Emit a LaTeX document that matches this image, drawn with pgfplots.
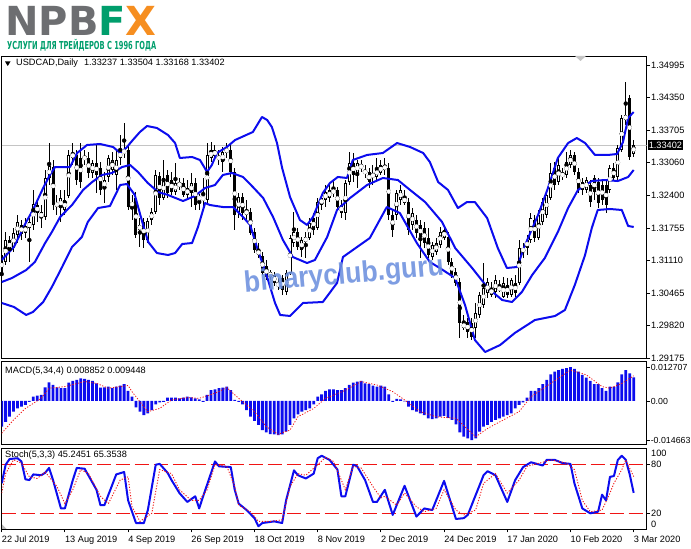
\documentclass[border=0pt]{standalone}
\usepackage{graphicx}
\usepackage{fontspec}
\setmainfont{Liberation Sans}
\newfontfamily\logofont{DejaVu Sans}
\usepackage{pgfplots}
\pgfplotsset{compat=1.18}
\usepackage{pgfplotstable}

\definecolor{mtblue}{RGB}{12,12,238}
\definecolor{mtred}{RGB}{240,20,20}
\definecolor{npbgrey}{RGB}{109,110,113}
\definecolor{npbgreen}{RGB}{0,158,108}
\definecolor{npborange}{RGB}{246,142,32}
\definecolor{wmblue}{RGB}{108,144,222}
\definecolor{pricegrey}{RGB}{196,196,196}

\newcommand{\lbl}{\fontsize{9.2}{11}\selectfont}

\pgfplotsset{
  mtpanel/.style={
    scale only axis, width=645pt, xmin=0, xmax=163.3,
    axis line style={black, line width=0.9pt},
    tick style={black, line width=0.8pt},
    tick align=outside, major tick length=3pt,
    xtick pos=left, ytick pos=right, yticklabel pos=right,
    scaled y ticks=false,
    ticklabel style={font=\lbl, text=black},
    yticklabel style={anchor=west, inner sep=0pt, xshift=1.3pt},
  }
}

\pgfplotstableread{
i o h l c
0 1.31225 1.31364 1.30332 1.30828
1 1.31086 1.31681 1.31027 1.31523
2 1.31523 1.31602 1.31086 1.31324
3 1.31364 1.31761 1.31284 1.31661
4 1.31622 1.32019 1.31463 1.31880
5 1.31821 1.31920 1.31523 1.31642
6 1.31661 1.31959 1.31562 1.31801
7 1.31761 1.31959 1.31086 1.31880
8 1.31821 1.32515 1.31721 1.32237
9 1.32217 1.32316 1.31880 1.32058
10 1.32078 1.32217 1.31761 1.31959
11 1.31979 1.32912 1.31920 1.32753
12 1.32753 1.33447 1.32614 1.32991
13 1.32971 1.33110 1.32118 1.32217
14 1.32256 1.32416 1.32019 1.32197
15 1.32157 1.32515 1.31880 1.32356
16 1.32118 1.32515 1.32019 1.32316
17 1.32396 1.33309 1.32356 1.33210
18 1.33150 1.33447 1.33011 1.33249
19 1.33210 1.33309 1.32614 1.32713
20 1.33150 1.33447 1.32554 1.32673
21 1.33110 1.33309 1.33011 1.33190
22 1.33150 1.33269 1.32753 1.32852
23 1.32852 1.33110 1.32753 1.33050
24 1.33050 1.33408 1.32455 1.32813
25 1.32951 1.33070 1.32416 1.32515
26 1.32554 1.32872 1.32256 1.32713
27 1.32773 1.33210 1.32673 1.33150
28 1.32912 1.33269 1.32813 1.33110
29 1.32813 1.33309 1.32515 1.33110
30 1.33150 1.33606 1.33011 1.33269
31 1.33249 1.33844 1.33150 1.33309
32 1.33309 1.33408 1.32118 1.32177
33 1.32256 1.32416 1.31920 1.32217
34 1.32356 1.32475 1.31562 1.31622
35 1.31721 1.31959 1.31384 1.31821
36 1.31880 1.31959 1.31364 1.31523
37 1.31523 1.31959 1.31463 1.31900
38 1.31920 1.32157 1.31821 1.32078
39 1.32078 1.32912 1.32039 1.32813
40 1.32793 1.32872 1.32217 1.32356
41 1.32356 1.33110 1.32316 1.32753
42 1.32813 1.32912 1.32356 1.32455
43 1.32713 1.32872 1.32416 1.32475
44 1.32475 1.33050 1.32416 1.32653
45 1.32634 1.32753 1.32515 1.32614
46 1.32653 1.32753 1.32376 1.32416
47 1.32416 1.32713 1.32316 1.32554
48 1.32455 1.32852 1.32177 1.32653
49 1.32653 1.32753 1.32118 1.32217
50 1.32316 1.32436 1.32118 1.32396
51 1.32376 1.32753 1.32118 1.32316
52 1.32316 1.33447 1.32256 1.33210
53 1.33150 1.33467 1.33070 1.33309
54 1.33309 1.33408 1.33110 1.33190
55 1.33190 1.33309 1.33011 1.33110
56 1.33070 1.33368 1.32872 1.33269
57 1.33249 1.33447 1.33150 1.33348
58 1.33309 1.33447 1.32773 1.32872
59 1.32872 1.32951 1.31721 1.32019
60 1.32078 1.32455 1.31959 1.32376
61 1.32376 1.32455 1.31920 1.32058
62 1.32019 1.32316 1.31880 1.32118
63 1.32078 1.32157 1.31622 1.31661
64 1.31681 1.31761 1.31264 1.31324
65 1.31324 1.31463 1.31165 1.31225
66 1.31205 1.31284 1.30828 1.30867
67 1.31007 1.31126 1.30729 1.30788
68 1.30788 1.30927 1.30729 1.30887
69 1.30828 1.30887 1.30610 1.30669
70 1.30669 1.30768 1.30531 1.30610
71 1.30768 1.30828 1.30432 1.30531
72 1.30491 1.30927 1.30432 1.30867
73 1.30867 1.31622 1.30828 1.31562
74 1.31463 1.32078 1.31384 1.31681
75 1.31681 1.31761 1.31324 1.31384
76 1.31324 1.31582 1.31185 1.31523
77 1.31483 1.31681 1.31165 1.31582
78 1.31562 1.31959 1.31523 1.31860
79 1.31959 1.32058 1.31622 1.31721
80 1.31761 1.32356 1.31721 1.32276
81 1.32217 1.32416 1.32118 1.32356
82 1.32316 1.32614 1.32177 1.32475
83 1.32356 1.32614 1.32276 1.32515
84 1.32515 1.32713 1.32376 1.32455
85 1.32515 1.32574 1.32118 1.32177
86 1.32217 1.32316 1.31959 1.32058
87 1.32058 1.32713 1.31920 1.32653
88 1.32673 1.33269 1.32614 1.33050
89 1.33050 1.33249 1.32673 1.32813
90 1.32852 1.33110 1.32554 1.33050
91 1.33011 1.33110 1.32872 1.32951
92 1.32912 1.33011 1.32753 1.32833
93 1.32872 1.32951 1.32554 1.32673
94 1.32773 1.33011 1.32614 1.32833
95 1.32773 1.33150 1.32713 1.32951
96 1.32852 1.33110 1.32813 1.33011
97 1.33011 1.33150 1.32813 1.32912
98 1.32951 1.33050 1.31920 1.32019
99 1.32019 1.32118 1.31582 1.31721
100 1.32019 1.32515 1.31920 1.32455
101 1.32316 1.32614 1.32217 1.32515
102 1.32376 1.32515 1.32217 1.32256
103 1.32276 1.32356 1.31622 1.31721
104 1.31821 1.32157 1.31721 1.32058
105 1.31920 1.32019 1.31562 1.31661
106 1.31821 1.31920 1.31165 1.31582
107 1.31761 1.31880 1.31364 1.31463
108 1.31562 1.31761 1.31165 1.31225
109 1.31185 1.31483 1.31126 1.31424
110 1.31284 1.31562 1.31225 1.31463
111 1.31424 1.31781 1.31364 1.31681
112 1.31562 1.31821 1.31523 1.31721
113 1.31582 1.31681 1.31027 1.31086
114 1.31086 1.31165 1.30768 1.30828
115 1.30887 1.30967 1.30610 1.30669
116 1.30689 1.30768 1.29578 1.29875
117 1.29875 1.30035 1.29737 1.29776
118 1.29895 1.29975 1.29578 1.29697
119 1.29875 1.29975 1.29538 1.29598
120 1.29776 1.30272 1.29578 1.30074
121 1.30035 1.30491 1.29975 1.30432
122 1.30233 1.31066 1.30173 1.30570
123 1.30471 1.30768 1.30372 1.30689
124 1.30570 1.30689 1.30392 1.30432
125 1.30491 1.30828 1.30372 1.30729
126 1.30590 1.30729 1.30491 1.30531
127 1.30392 1.30788 1.30372 1.30669
128 1.30630 1.30768 1.30372 1.30432
129 1.30432 1.30768 1.30392 1.30729
130 1.30669 1.30828 1.30392 1.30471
131 1.30669 1.31523 1.30630 1.31364
132 1.31364 1.31463 1.31165 1.31284
133 1.31364 1.31622 1.31225 1.31523
134 1.31523 1.32058 1.31463 1.31959
135 1.31920 1.32019 1.31483 1.31562
136 1.31562 1.32118 1.31523 1.32019
137 1.31880 1.32356 1.31821 1.32276
138 1.32019 1.32475 1.31959 1.32416
139 1.32356 1.33050 1.32316 1.32852
140 1.32951 1.33070 1.32515 1.32614
141 1.32673 1.33150 1.32614 1.33011
142 1.32852 1.32951 1.32713 1.32773
143 1.32813 1.33269 1.32753 1.33070
144 1.33011 1.33309 1.32951 1.33210
145 1.33210 1.33269 1.32813 1.32872
146 1.32872 1.32951 1.32455 1.32515
147 1.32673 1.32753 1.32416 1.32515
148 1.32515 1.32773 1.32455 1.32713
149 1.32614 1.32713 1.32177 1.32276
150 1.32753 1.32813 1.32316 1.32475
151 1.32673 1.32753 1.32157 1.32256
152 1.32614 1.32713 1.32217 1.32316
153 1.32614 1.32713 1.32058 1.32217
154 1.32515 1.33011 1.32455 1.32951
155 1.32951 1.33050 1.32713 1.32753
156 1.32773 1.33408 1.32713 1.33348
157 1.33309 1.34003 1.33269 1.33944
158 1.33904 1.34658 1.33805 1.34003
159 1.34340 1.34400 1.33110 1.33170
160 1.33237 1.33504 1.33168 1.33402
}\candles

\begin{document}
\begin{tikzpicture}[x=1pt,y=1pt]
\useasboundingbox (0pt,0pt) rectangle (691pt,549pt);

% ---------- logo ----------
\node[anchor=base west, inner sep=0pt] at (5pt,513pt)
  {\logofont\bfseries\fontsize{40}{40}\selectfont\textcolor{npbgrey}{NPB}\textcolor{npbgreen}{F}\textcolor{npborange}{X}};
\node[anchor=base west, inner sep=0pt, text=npbgreen] at (7pt,499pt)
  {\resizebox{149pt}{\height}{\logofont\bfseries\fontsize{11}{11}\selectfont УСЛУГИ ДЛЯ ТРЕЙДЕРОВ С 1996 ГОДА}};

% ---------- main price panel ----------
\begin{axis}[mtpanel, at={(1.7pt,493pt)}, anchor=north west, height=302.5pt,
  ymin=1.29171, ymax=1.35174, xtick=\empty,
  ytick={1.29175,1.29820,1.30465,1.31110,1.31755,1.32400,1.33060,1.33705,1.34350,1.34995},
  yticklabels={1.29175,1.29820,1.30465,1.31110,1.31755,1.32400,1.33060,1.33705,1.34350,1.34995}]
\addplot[pricegrey, line width=1pt] coordinates {(0,1.33402) (163.3,1.33402)};
% wicks
\addplot[black, only marks, mark=none,
  error bars/.cd, y dir=both, y explicit, error mark=none, error bar style={line width=1pt}]
  table[x=i, y expr={(\thisrow{h}+\thisrow{l})/2}, y error expr={(\thisrow{h}-\thisrow{l})/2}] {\candles};
% bodies
\addplot[black, only marks, mark=none,
  error bars/.cd, y dir=both, y explicit, error mark=none, error bar style={line width=3pt}]
  table[x=i, y expr={(\thisrow{o}+\thisrow{c})/2}, y error expr={abs(\thisrow{o}-\thisrow{c})/2}] {\candles};
% hollow bull bodies
\addplot[white, only marks, mark=none,
  error bars/.cd, y dir=both, y explicit, error mark=none, error bar style={line width=1.1pt}]
  table[x=i, y expr={(\thisrow{o}+\thisrow{c})/2}, y error expr={max((\thisrow{c}-\thisrow{o})/2-0.00019,0)}] {\candles};
% Bollinger bands
\addplot[mtblue, line width=2pt, line join=round] coordinates {
(0,1.31126) (3.1,1.31384) (6.2,1.31880) (7.9,1.32118) (10.5,1.32554) (12.2,1.32813) (13.5,1.32971)
(17.3,1.32971) (19.1,1.33249) (21.6,1.33408) (24.9,1.33428) (28.2,1.33368) (30,1.33249) (31.5,1.33348)
(33.2,1.33507) (35,1.33666) (36.8,1.33785) (39.3,1.33745) (42.1,1.33606) (43.9,1.33447) (45.1,1.33150)
(48.2,1.33170) (50.2,1.33110) (52,1.32872) (53.2,1.33011) (54.5,1.33249) (57,1.33368) (59.1,1.33507)
(63.6,1.33666) (65.9,1.33964) (67.2,1.33904) (68.4,1.33765) (69.7,1.33447) (71,1.32951) (73,1.32376)
(75.5,1.31920) (77.3,1.31821) (78.8,1.31979) (81.3,1.32455) (83.1,1.32653) (85.1,1.32773) (87.4,1.32753)
(88.9,1.33110) (92.5,1.33210) (96.5,1.33249) (100.1,1.33447) (103.4,1.33368) (106.7,1.33249) (108.4,1.33070)
(110.5,1.32673) (113,1.32515) (115.5,1.32157) (117.8,1.32276) (119.8,1.32276) (122.9,1.31959) (125.6,1.31364)
(127.9,1.30967) (130.5,1.30987) (132.5,1.31424) (135.8,1.32019) (138.3,1.32554) (140.8,1.33150) (143.4,1.33447)
(145.6,1.33546) (147.7,1.33447) (150.2,1.33210) (153.5,1.33210) (155.8,1.33229) (157.3,1.33467) (158.6,1.33944)
(160,1.34063)};
\addplot[mtblue, line width=2pt, line join=round] coordinates {
(0,1.30689) (2.6,1.30768) (6.2,1.30927) (8.4,1.31086) (11,1.31463) (12.7,1.31681) (14.8,1.31979) (17.8,1.32217)
(20.6,1.32515) (22.9,1.32673) (25.4,1.32813) (27.9,1.32852) (30.5,1.32971) (32.5,1.33011) (34.5,1.32872)
(37,1.32653) (39.6,1.32475) (42.1,1.32416) (45.9,1.32296) (48.9,1.32396) (51.5,1.32554) (54,1.32614)
(56,1.32813) (58.3,1.32852) (61.1,1.32773) (63.6,1.32574) (66.2,1.32356) (68.7,1.31979) (71.2,1.31523)
(73.7,1.31185) (77.3,1.31066) (79.3,1.31126) (82.4,1.31582) (84.9,1.32118) (88.2,1.32356) (92.5,1.32614)
(96.5,1.32753) (100.3,1.32713) (103.4,1.32515) (107.2,1.32276) (111.5,1.31880) (114.8,1.31364) (119.1,1.30967)
(123.1,1.30570) (126.7,1.30332) (129.2,1.30292) (131.7,1.30491) (134.3,1.30828) (137.5,1.31165) (140.8,1.31681)
(143.4,1.32157) (145.9,1.32515) (149.4,1.32693) (152.7,1.32713) (156,1.32693) (158.6,1.32773) (160,1.32912)};
\addplot[mtblue, line width=2pt, line join=round] coordinates {
(0,1.30273) (3.1,1.30193) (6.2,1.30035) (7.9,1.30094) (10.5,1.30292) (12.7,1.30590) (15.3,1.30987) (17.8,1.31384)
(20.3,1.31582) (21.8,1.31880) (24.4,1.32157) (27.4,1.32197) (30,1.32614) (31.7,1.32634) (33.7,1.32416)
(35.8,1.31821) (37.1,1.31483) (39.3,1.31264) (42.1,1.31225) (43.9,1.31264) (45.7,1.31443) (48.2,1.31463)
(49.7,1.31781) (51.5,1.32256) (52.7,1.32217) (56,1.32177) (58.6,1.32177) (61.1,1.31979) (62.9,1.31821)
(64.6,1.31384) (67.2,1.30788) (69.2,1.30273) (70.5,1.30035) (73,1.30015) (76.3,1.30273) (81.3,1.30292)
(84.9,1.30669) (86.4,1.31185) (88.9,1.31324) (93.2,1.31562) (97.5,1.32177) (100.8,1.32058) (105.1,1.31463)
(108.4,1.31086) (110.9,1.30967) (114.8,1.30768) (117.3,1.30233) (119.8,1.29538) (122.4,1.29300) (126.2,1.29439)
(129.9,1.29677) (135,1.29935) (140.1,1.30015) (142.6,1.30134) (145.1,1.30630) (147.7,1.31225) (149.4,1.31761)
(150.9,1.32118) (154,1.32138) (157,1.32118) (158.6,1.31801) (160,1.31781)};
\coordinate (pl) at (axis cs:163.3,1.33402);
\end{axis}

% ---------- MACD panel ----------
\begin{axis}[mtpanel, at={(1.7pt,187.5pt)}, anchor=north west, height=82.5pt,
  ymin=-0.016125, ymax=0.01481, xtick=\empty,
  yticklabel style={xshift=-0.4pt, font=\fontsize{8.8}{10}\selectfont},
  ytick={-0.014663,0,0.012707}, yticklabels={-0.014663,0.00,0.012707}]
\addplot[ybar, bar width=2.8pt, fill=mtblue, draw=none] coordinates {
(0,-0.0096) (1,-0.0078) (2,-0.0059) (3,-0.0040) (4,-0.0028) (5,-0.0021) (6,-0.0015) (7,-0.0003) (8,0.0016) (9,0.0020)
(10,0.0023) (11,0.0051) (12,0.0070) (13,0.0060) (14,0.0051) (15,0.0048) (16,0.0048) (17,0.0069) (18,0.0075) (19,0.0079)
(20,0.0085) (21,0.0083) (22,0.0079) (23,0.0075) (24,0.0066) (25,0.0050) (26,0.0051) (27,0.0054) (28,0.0048) (29,0.0054)
(30,0.0058) (31,0.0063) (32,0.0038) (33,0.0016) (34,-0.0024) (35,-0.0040) (36,-0.0053) (37,-0.0046) (38,-0.0034) (39,-0.0013)
(40,-0.0005) (41,-0.0003) (42,0.0013) (43,0.0013) (44,0.0013) (45,0.0010) (46,0.0013) (47,0.0016) (48,0.0014) (49,0.0010)
(50,0.0006) (51,-0.0003) (52,0.0023) (53,0.0041) (54,0.0044) (55,0.0048) (56,0.0050) (57,0.0054) (58,0.0041) (59,0.0004)
(60,-0.0003) (61,-0.0013) (62,-0.0034) (63,-0.0059) (64,-0.0075) (65,-0.0090) (66,-0.0109) (67,-0.0118) (68,-0.0124) (69,-0.0125)
(70,-0.0128) (71,-0.0125) (72,-0.0115) (73,-0.0090) (74,-0.0065) (75,-0.0050) (76,-0.0040) (77,-0.0034) (78,-0.0028) (79,-0.0013)
(80,0.0016) (81,0.0025) (82,0.0038) (83,0.0044) (84,0.0044) (85,0.0041) (86,0.0041) (87,0.0048) (88,0.0060) (89,0.0069)
(90,0.0073) (91,0.0075) (92,0.0066) (93,0.0063) (94,0.0058) (95,0.0054) (96,0.0058) (97,0.0054) (98,0.0025) (99,-0.0003)
(100,0.0008) (101,0.0006) (102,-0.0001) (103,-0.0021) (104,-0.0034) (105,-0.0040) (106,-0.0046) (107,-0.0053) (108,-0.0065) (109,-0.0068)
(110,-0.0065) (111,-0.0059) (112,-0.0056) (113,-0.0063) (114,-0.0071) (115,-0.0088) (116,-0.0118) (117,-0.0134) (118,-0.0140) (119,-0.0147)
(120,-0.0140) (121,-0.0115) (122,-0.0096) (123,-0.0090) (124,-0.0078) (125,-0.0071) (126,-0.0065) (127,-0.0059) (128,-0.0053) (129,-0.0046)
(130,-0.0028) (131,-0.0015) (132,-0.0005) (133,0.0013) (134,0.0038) (135,0.0038) (136,0.0048) (137,0.0063) (138,0.0079) (139,0.0100)
(140,0.0110) (141,0.0116) (142,0.0120) (143,0.0123) (144,0.0127) (145,0.0120) (146,0.0110) (147,0.0098) (148,0.0088) (149,0.0075)
(150,0.0063) (151,0.0063) (152,0.0048) (153,0.0038) (154,0.0054) (155,0.0054) (156,0.0070) (157,0.0100) (158,0.0116) (159,0.0104)
(160,0.0089)};
\addplot[mtred, line width=0.8pt, dash pattern=on 1.2pt off 1.6pt] coordinates {
(0,-0.0121) (3,-0.0071) (6,-0.0028) (10,0.0010) (12,0.0048) (16,0.0054) (21,0.0073) (24,0.0066) (27,0.0048) (32,0.0058)
(33,0.0035) (35,-0.0003) (37,-0.0040) (40,-0.0028) (43,0.0004) (47,0.0013) (50,0.0010) (54,0.0029) (57,0.0050) (60,0.0010)
(64,-0.0040) (67,-0.0096) (70,-0.0125) (73,-0.0109) (75,-0.0059) (79,-0.0028) (82,0.0010) (87,0.0040) (91,0.0073) (95,0.0060)
(99,0.0035) (102,0.0004) (106,-0.0040) (110,-0.0059) (115,-0.0065) (120,-0.0134) (123,-0.0103) (127,-0.0071) (131,-0.0040)
(134,0.0016) (139,0.0066) (144,0.0116) (148,0.0098) (152,0.0054) (154,0.0048) (157,0.0066) (160,0.009448)};
\end{axis}

% ---------- Stochastic panel ----------
\begin{axis}[mtpanel, at={(1.7pt,100.5pt)}, anchor=north west, height=81pt,
  ymin=0, ymax=100,
  xtick={0,16,...,160},
  xticklabels={22 Jul 2019,13 Aug 2019,4 Sep 2019,26 Sep 2019,18 Oct 2019,8 Nov 2019,2 Dec 2019,24 Dec 2019,17 Jan 2020,10 Feb 2020,3 Mar 2020},
  xticklabel style={anchor=north west, inner sep=0pt, yshift=-3pt},
  ytick={20,80}, yticklabels={20,80}]
\addplot[mtred, line width=1pt, dash pattern=on 14pt off 5pt] coordinates {(0,20) (163.3,20)};
\addplot[mtred, line width=1pt, dash pattern=on 14pt off 5pt] coordinates {(0,80) (163.3,80)};
\addplot[mtblue, line width=2pt, line join=round] coordinates {
(0,57) (1,80) (2,87) (4,88) (5,84) (6,62) (7,61) (8,68) (10,67) (11,70) (12,76) (13,61) (15,26) (16,26) (18,61) (19,76)
(21,75) (24,49) (25,30) (26,30) (29,68) (31,71) (32,36) (34,8) (36,8) (37,24) (39,80) (40,81) (42,70) (43,61) (45,45)
(47,34) (49,41) (50,26) (51,41) (54,84) (55,78) (58,77) (59,49) (60,32) (62,24) (64,14) (65,4) (66,8) (69,10) (71,8)
(72,36) (74,73) (75,67) (77,63) (79,69) (80,88) (81,91) (83,86) (85,74) (86,41) (87,41) (89,80) (90,78) (92,61) (94,34)
(95,34) (97,49) (99,18) (102,54) (105,16) (107,26) (109,24) (112,60) (115,13) (117,14) (118,18) (122,67) (123,72) (125,67)
(128,34) (130,61) (132,77) (134,83) (137,79) (138,86) (140,86) (142,82) (144,81) (145,57) (147,26) (149,20) (151,22)
(152,43) (153,36) (154,65) (155,66) (156,86) (157,91) (158,86) (159,68) (160,45.2451)};
\addplot[mtred, line width=0.9pt, dash pattern=on 1.2pt off 1.6pt] coordinates {
(0,45) (1,69) (3,86) (5,82) (7,65) (9,63) (11,71) (14,53) (16,32) (18,49) (20,74) (22,69) (25,41) (27,32) (30,61) (32,65)
(33,28) (35,10) (38,20) (40,74) (43,69) (45,49) (48,36) (50,36) (52,49) (54,80) (57,78) (59,53) (60,30) (63,22) (65,10)
(68,10) (71,12) (73,53) (75,69) (77,67) (80,80) (82,89) (84,84) (86,61) (87,49) (89,78) (91,76) (94,53) (96,39) (97,41)
(100,30) (102,45) (105,28) (107,22) (110,26) (112,49) (115,24) (117,18) (120,24) (122,57) (125,69) (128,45) (131,61)
(133,78) (137,83) (139,86) (143,82) (145,74) (147,36) (149,22) (152,24) (154,45) (155,57) (157,74) (158,86) (160,65.3538)};
\end{axis}

% ---------- texts and marks ----------
\fill (5pt,487.5pt) -- (10.5pt,487.5pt) -- (7.75pt,483pt) -- cycle;
\node[anchor=west, inner sep=0pt, font=\lbl] at (16pt,485.5pt) {USDCAD,Daily\hspace{6pt}1.33237 1.33504 1.33168 1.33402};
\node[anchor=west, inner sep=0pt, font=\lbl] at (5pt,177.5pt) {MACD(5,34,4) 0.008852 0.009448};
\node[anchor=west, inner sep=0pt, font=\lbl] at (5pt,93.5pt) {Stoch(5,3,3) 45.2451 65.3538};
\node[anchor=west, inner sep=0pt, font=\lbl] at (651pt,95.7pt) {100};
\node[anchor=west, inner sep=0pt, font=\lbl] at (651pt,25pt) {0};
\node[fill=black, text=white, anchor=west, inner xsep=1.3pt, inner ysep=1.6pt, font=\lbl] at ([xshift=0.6pt]pl) {1.33402};
\fill[gray!45] (575pt,493pt) -- (586pt,493pt) -- (580.5pt,488pt) -- cycle;
\fill[gray!55] (2pt,20pt) -- (6.5pt,20pt) -- (2pt,24.5pt) -- cycle;
\node[rotate=5, yscale=1.12, text=wmblue, opacity=0.88, inner sep=0pt,
  font=\bfseries\fontsize{26.5}{26.5}\selectfont] at (344pt,273pt) {binaryclub.guru};
\end{tikzpicture}
\end{document}
